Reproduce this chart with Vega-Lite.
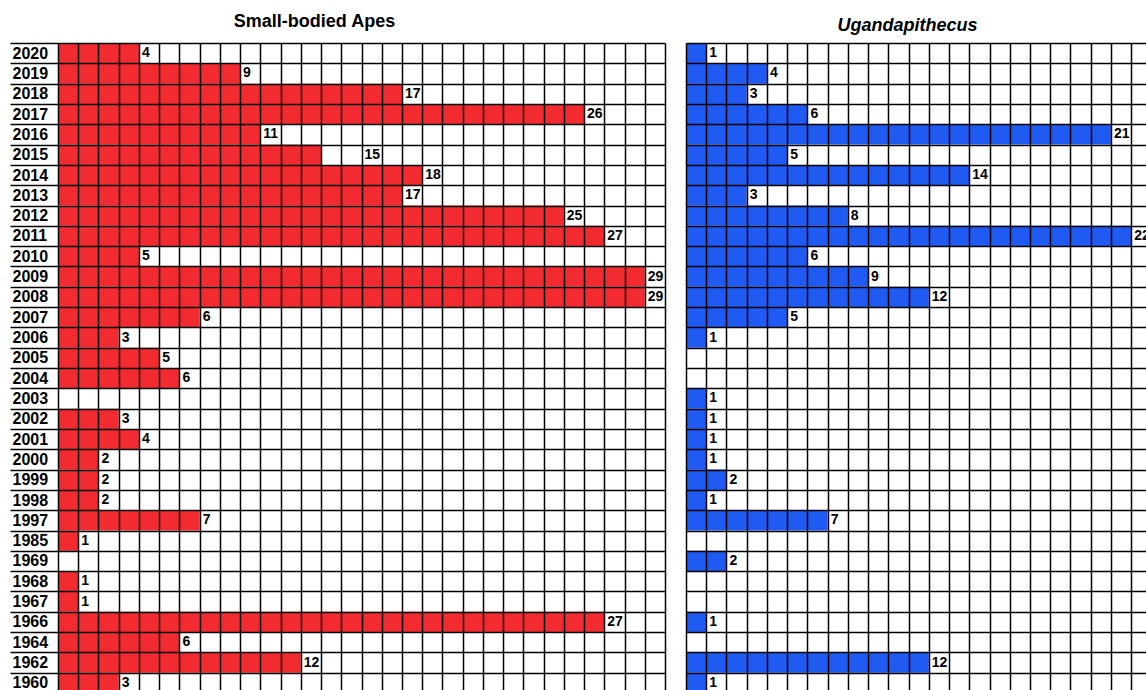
{
  "$schema": "https://vega.github.io/schema/vega-lite/v6.json",
  "padding": {"left": 9, "top": 13, "right": 0, "bottom": 0},
  "spacing": 21,
  "background": "white",
  "config": {
    "view": {"stroke": null},
    "font": "Liberation Sans",
    "title": {"font": "Liberation Sans", "fontSize": 18, "fontWeight": "bold", "color": "black", "offset": 4}
  },
  "datasets": {
    "apes": [
      {"year": "2020", "n": 4, "label": "4", "at": 4},
      {"year": "2019", "n": 9, "label": "9", "at": 9},
      {"year": "2018", "n": 17, "label": "17", "at": 17},
      {"year": "2017", "n": 26, "label": "26", "at": 26},
      {"year": "2016", "n": 10, "label": "11", "at": 10},
      {"year": "2015", "n": 13, "label": "15", "at": 15},
      {"year": "2014", "n": 18, "label": "18", "at": 18},
      {"year": "2013", "n": 17, "label": "17", "at": 17},
      {"year": "2012", "n": 25, "label": "25", "at": 25},
      {"year": "2011", "n": 27, "label": "27", "at": 27},
      {"year": "2010", "n": 4, "label": "5", "at": 4},
      {"year": "2009", "n": 29, "label": "29", "at": 29},
      {"year": "2008", "n": 29, "label": "29", "at": 29},
      {"year": "2007", "n": 7, "label": "6", "at": 7},
      {"year": "2006", "n": 3, "label": "3", "at": 3},
      {"year": "2005", "n": 5, "label": "5", "at": 5},
      {"year": "2004", "n": 6, "label": "6", "at": 6},
      {"year": "2002", "n": 3, "label": "3", "at": 3},
      {"year": "2001", "n": 4, "label": "4", "at": 4},
      {"year": "2000", "n": 2, "label": "2", "at": 2},
      {"year": "1999", "n": 2, "label": "2", "at": 2},
      {"year": "1998", "n": 2, "label": "2", "at": 2},
      {"year": "1997", "n": 7, "label": "7", "at": 7},
      {"year": "1985", "n": 1, "label": "1", "at": 1},
      {"year": "1968", "n": 1, "label": "1", "at": 1},
      {"year": "1967", "n": 1, "label": "1", "at": 1},
      {"year": "1966", "n": 27, "label": "27", "at": 27},
      {"year": "1964", "n": 6, "label": "6", "at": 6},
      {"year": "1962", "n": 12, "label": "12", "at": 12},
      {"year": "1960", "n": 3, "label": "3", "at": 3}
    ],
    "ugand": [
      {"year": "2020", "n": 1},
      {"year": "2019", "n": 4},
      {"year": "2018", "n": 3},
      {"year": "2017", "n": 6},
      {"year": "2016", "n": 21},
      {"year": "2015", "n": 5},
      {"year": "2014", "n": 14},
      {"year": "2013", "n": 3},
      {"year": "2012", "n": 8},
      {"year": "2011", "n": 22},
      {"year": "2010", "n": 6},
      {"year": "2009", "n": 9},
      {"year": "2008", "n": 12},
      {"year": "2007", "n": 5},
      {"year": "2006", "n": 1},
      {"year": "2003", "n": 1},
      {"year": "2002", "n": 1},
      {"year": "2001", "n": 1},
      {"year": "2000", "n": 1},
      {"year": "1999", "n": 2},
      {"year": "1998", "n": 1},
      {"year": "1997", "n": 7},
      {"year": "1969", "n": 2},
      {"year": "1966", "n": 1},
      {"year": "1962", "n": 12},
      {"year": "1960", "n": 1}
    ]
  },
  "hconcat": [
    {
      "width": 607,
      "height": 650,
      "title": {"text": "Small-bodied Apes", "frame": "group", "dx": -47},
      "data": {"name": "apes"},
      "layer": [
        {
          "mark": {"type": "bar", "color": "#F22B30", "strokeWidth": 0},
          "encoding": {
            "x": {"field": "n", "type": "quantitative",
              "scale": {"domain": [0, 30], "nice": false, "zero": true},
              "axis": {"values": [0,1,2,3,4,5,6,7,8,9,10,11,12,13,14,15,16,17,18,19,20,21,22,23,24,25,26,27,28,29,30],
                "tickCount": 100,
                "grid": true, "gridColor": "black", "gridWidth": 1.5, "gridOpacity": 1,
                "labels": false, "ticks": false, "domain": false, "title": null, "zindex": 1}},
            "y": {"field": "year", "type": "nominal",
              "scale": {"domain": ["2020","2019","2018","2017","2016","2015","2014","2013","2012","2011","2010","2009","2008","2007","2006","2005","2004","2003","2002","2001","2000","1999","1998","1997","1985","1969","1968","1967","1966","1964","1962","1960"],
                "paddingInner": 0, "paddingOuter": 0},
              "axis": {"tickBand": "extent", "ticks": true, "tickSize": 48, "tickColor": "black", "tickWidth": 1.5,
                "grid": true, "gridColor": "black", "gridWidth": 1.5, "gridOpacity": 1,
                "domain": false, "title": null, "labelAlign": "left", "labelPadding": -2,
                "labelFont": "Liberation Sans", "labelFontSize": 16, "labelFontWeight": "bold", "labelColor": "black",
                "zindex": 1}}
          }
        },
        {
          "mark": {"type": "text", "align": "left", "baseline": "middle", "dx": 3, "fontSize": 14, "fontWeight": "bold", "color": "black", "font": "Liberation Sans"},
          "encoding": {
            "x": {"field": "at", "type": "quantitative"},
            "y": {"field": "year", "type": "nominal"},
            "text": {"field": "label"}
          }
        }
      ]
    },
    {
      "width": 607,
      "height": 650,
      "title": {"text": "Ugandapithecus", "frame": "group", "dx": -82, "dy": -4, "fontStyle": "italic"},
      "data": {"name": "ugand"},
      "layer": [
        {
          "mark": {"type": "bar", "color": "#1F5AF2", "strokeWidth": 0},
          "encoding": {
            "x": {"field": "n", "type": "quantitative",
              "scale": {"domain": [0, 30], "nice": false, "zero": true},
              "axis": {"values": [0,1,2,3,4,5,6,7,8,9,10,11,12,13,14,15,16,17,18,19,20,21,22,23,24,25,26,27,28,29,30],
                "tickCount": 100,
                "grid": true, "gridColor": "black", "gridWidth": 1.5, "gridOpacity": 1,
                "labels": false, "ticks": false, "domain": false, "title": null, "zindex": 1}},
            "y": {"field": "year", "type": "nominal",
              "scale": {"domain": ["2020","2019","2018","2017","2016","2015","2014","2013","2012","2011","2010","2009","2008","2007","2006","2005","2004","2003","2002","2001","2000","1999","1998","1997","1985","1969","1968","1967","1966","1964","1962","1960"],
                "paddingInner": 0, "paddingOuter": 0},
              "axis": {"tickBand": "extent", "ticks": false, "labels": false,
                "grid": true, "gridColor": "black", "gridWidth": 1.5, "gridOpacity": 1,
                "domain": false, "title": null, "zindex": 1}}
          }
        },
        {
          "mark": {"type": "text", "align": "left", "baseline": "middle", "dx": 3, "fontSize": 14, "fontWeight": "bold", "color": "black", "font": "Liberation Sans"},
          "encoding": {
            "x": {"field": "n", "type": "quantitative"},
            "y": {"field": "year", "type": "nominal"},
            "text": {"field": "n"}
          }
        }
      ]
    }
  ]
}
